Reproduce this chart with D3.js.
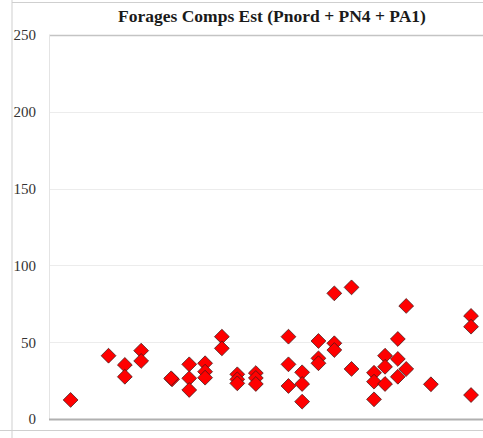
<!DOCTYPE html>
<html>
<head>
<meta charset="utf-8">
<script src="https://cdn.jsdelivr.net/npm/d3@7"></script>
<style>
  body { margin: 0; background: #fff; }
  svg { display: block; }
  .tick text { font-family: "Liberation Serif", "Times New Roman", serif; }
</style>
</head>
<body>
<svg width="483" height="438"></svg>
<script>
// campaign position (arbitrary index along the x axis) and value
let xs = [4.9, 13.5, 17.2, 17.2, 20.9, 20.9, 27.9, 27.7, 31.8, 31.8, 31.8,
          35.4, 35.4, 35.4, 39.2, 39.2, 42.7, 42.7, 42.7, 46.9, 46.9, 46.9,
          54.3, 54.3, 54.3, 57.4, 57.4, 57.4, 61.1, 61.1, 61.1, 64.7, 64.7, 64.7,
          68.6, 68.6, 73.7, 73.7, 73.7, 76.2, 76.2, 76.2, 79.1, 79.1, 79.1,
          81.0, 81.0, 86.6, 95.7, 95.7, 95.7];
let ys = [12.4, 41.2, 35.2, 27.5, 44.5, 37.8, 25.8, 26.5, 35.6, 26.5, 18.9,
          36.3, 30.8, 26.9, 53.6, 46.0, 29.1, 25.8, 23.2, 29.9, 26.7, 22.8,
          53.6, 35.6, 21.5, 30.4, 22.8, 11.3, 50.8, 39.5, 36.3, 81.8, 49.3, 44.9,
          85.7, 32.6, 30.1, 24.3, 12.8, 41.2, 34.0, 22.8, 52.1, 39.1, 27.5,
          73.6, 32.6, 22.6, 67.1, 60.1, 15.6];
let yTicks = [0, 50, 100, 150, 200, 250];
let title = "Forages Comps Est (Pnord + PN4 + PA1)";

let svg = d3.select("svg");
let width = +svg.attr("width");
let height = +svg.attr("height");

// sheet cell borders
svg.append("line").attr("x1", 12).attr("x2", 12).attr("y1", 0).attr("y2", height)
    .attr("stroke", "#cfcfcf");
svg.append("line").attr("x1", 12).attr("x2", width).attr("y1", 2.5).attr("y2", 2.5)
    .attr("stroke", "#cfcfcf");
svg.append("line").attr("x1", 0).attr("x2", width).attr("y1", 430.5).attr("y2", 430.5)
    .attr("stroke", "#cfcfcf");

let plotLeft = 49, plotRight = 490, plotTop = 35, plotBottom = 419;

let x = d3.scaleLinear().domain([0, 100]).range([plotLeft, plotRight]);
let y = d3.scaleLinear().domain([0, 250]).range([plotBottom, plotTop]);

// gridlines
svg.append("g")
    .selectAll("line")
    .data(yTicks.slice(1, -1))
    .enter().append("line")
    .attr("x1", plotLeft).attr("x2", width)
    .attr("y1", d => Math.round(y(d)) + 0.5).attr("y2", d => Math.round(y(d)) + 0.5)
    .attr("stroke", "#ececec");
svg.append("line")
    .attr("x1", plotLeft).attr("x2", width)
    .attr("y1", y(250) + 0.5).attr("y2", y(250) + 0.5)
    .attr("stroke", "#c4c4c4").attr("stroke-width", 1.5);
svg.append("line")
    .attr("x1", plotLeft + 0.5).attr("x2", plotLeft + 0.5)
    .attr("y1", y(250)).attr("y2", y(0))
    .attr("stroke", "#e4e4e4");
svg.append("line")
    .attr("x1", plotLeft).attr("x2", width)
    .attr("y1", y(0) + 0.5).attr("y2", y(0) + 0.5)
    .attr("stroke", "#b0b0b0").attr("stroke-width", 2);

// y axis labels
let yAxis = svg.append("g")
    .attr("transform", `translate(${plotLeft},0)`)
    .call(d3.axisLeft(y).tickValues(yTicks).tickSize(0).tickPadding(13));
yAxis.select(".domain").remove();
yAxis.selectAll("text")
    .attr("font-size", 15)
    .attr("fill", "#333");

svg.append("text")
    .attr("x", 272).attr("y", 22)
    .attr("text-anchor", "middle")
    .attr("font-family", "'Liberation Serif', 'Times New Roman', serif")
    .attr("font-weight", "bold")
    .attr("font-size", 17.5)
    .attr("fill", "#1a1a1a")
    .text(title);

let pts = xs.map((d, i) => ({x: d, y: ys[i]}));
let diamond = d3.symbol().type(d3.symbolSquare).size(110);
svg.append("g")
    .selectAll("path")
    .data(pts)
    .enter().append("path")
    .attr("d", diamond)
    .attr("transform", d => `translate(${x(d.x)},${y(d.y)}) rotate(45)`)
    .attr("fill", "#ff0000")
    .attr("stroke", "#3a1a1a")
    .attr("stroke-width", 0.7);
</script>
</body>
</html>
